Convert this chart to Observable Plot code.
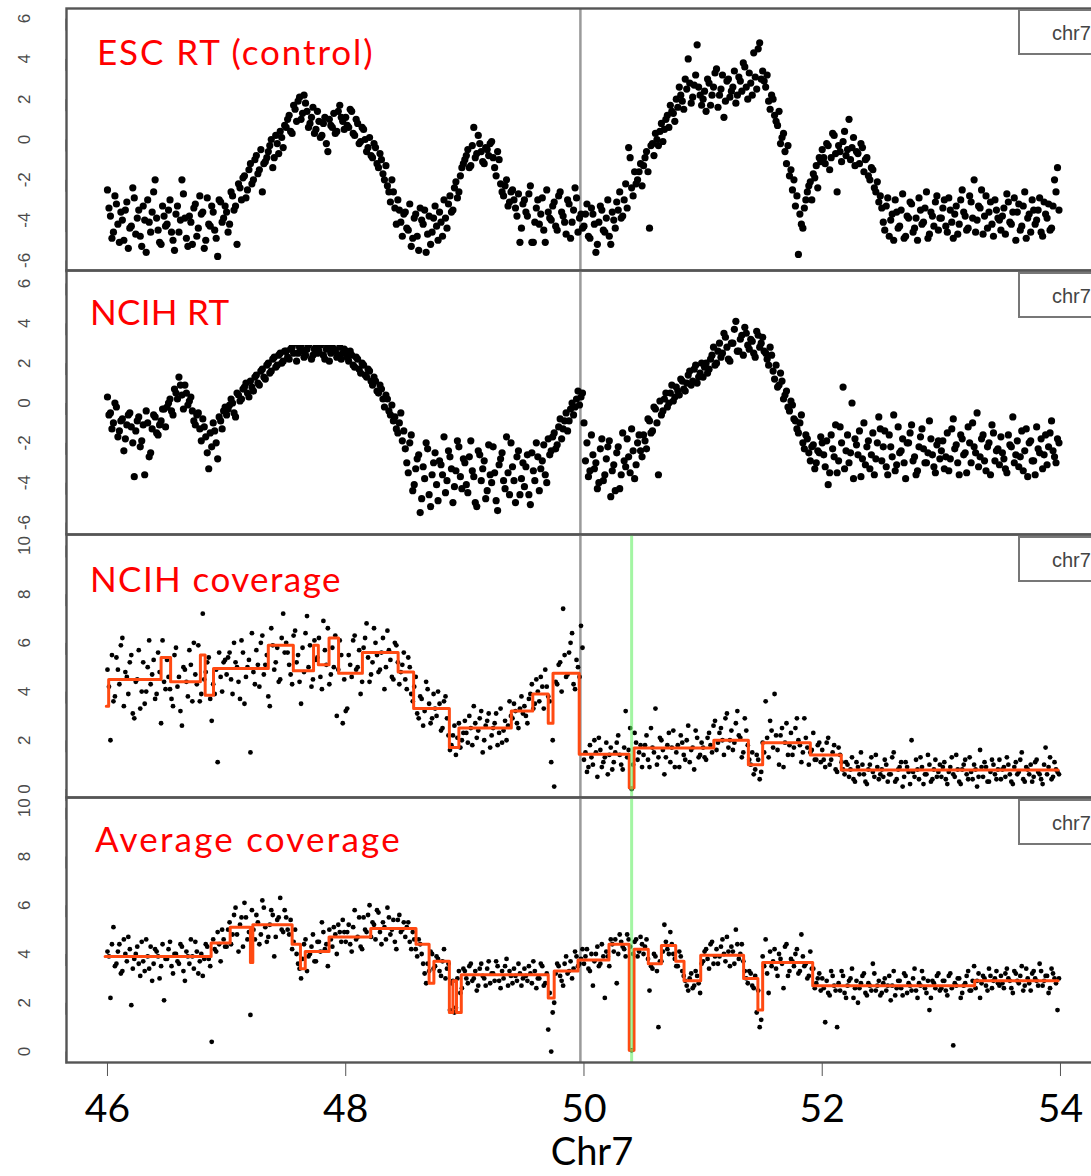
<!DOCTYPE html>
<html><head><meta charset="utf-8">
<script src="https://cdn.jsdelivr.net/npm/d3@7"></script>
<script src="https://cdn.jsdelivr.net/npm/@observablehq/plot@0.6"></script>
<style>
body{margin:0;background:#fff;}
#wrap{position:relative;width:1091px;height:1176px;overflow:hidden;background:#fff;}
.panel{position:absolute;left:0;max-width:none !important;}
.wbox{position:absolute;background:#fff;}
.lbl{position:absolute;color:#ff0000;font-family:Lato,sans-serif;font-size:35px;line-height:35px;white-space:nowrap;}
.legend{position:absolute;left:1018px;width:100px;height:46px;border:2px solid #777;background:#fff;box-sizing:border-box;font-family:"Liberation Sans",Arial,sans-serif;font-size:20px;color:#444;}
.legend span{position:absolute;left:32px;top:11px;}
#xlabel{position:absolute;left:0;width:1184px;text-align:center;top:1132px;font-family:Lato,sans-serif;font-size:38px;line-height:36px;color:#000;}
</style></head>
<body><div id="wrap"></div>
<script>
// ---- data: genomic bins from 46.0 Mb, 0.025 Mb apart; a second set of bins sits half a bin later ----
const binStart = 46.0;
const binStep = 0.025;

const escRT = [
-2.5,-3.8,-4.6,-3.2,-5.1,-4.0,-3.5,-5.4,-4.3,-2.9,-3.9,-4.8,-3.3,-5.6,-4.1,-3.6,-2.0,-4.5,-5.2,-3.8,
-4.2,-3.0,-5.0,-3.7,-4.6,-2.0,-3.9,-5.3,-4.1,-3.4,-4.8,-2.8,-3.6,-5.0,-4.2,-3.3,-4.5,-5.8,-3.1,-3.9,
-3.6,-4.2,-2.8,-3.3,-2.2,-3.0,-1.8,-2.5,-1.2,-2.0,-0.8,-1.5,-2.6,-1.1,-0.6,0.0,-0.9,-0.2,0.4,-0.4,
0.6,1.2,0.3,1.5,1.9,1.0,2.2,1.4,0.8,1.6,0.5,0.9,0.2,1.1,-0.6,0.7,1.3,0.4,1.7,0.9,
1.1,0.6,1.4,0.2,0.8,-0.1,0.5,-0.6,0.1,-0.9,-0.4,-1.4,-1.0,-2.0,-2.3,-3.1,-2.6,-4.2,-3.5,-4.8,
-3.6,-4.5,-5.3,-3.9,-4.8,-3.4,-4.2,-5.6,-3.8,-4.6,-3.3,-5.0,-4.1,-3.0,-4.4,-2.8,-3.5,-2.1,-2.6,-1.4,
-1.0,-0.5,-1.3,0.6,-0.7,-0.2,-1.1,-0.4,-0.8,-0.1,-1.4,-0.6,-2.2,-2.8,-2.0,-3.1,-2.5,-3.4,-2.7,-4.4,
-3.0,-3.8,-2.3,-5.1,-3.4,-4.2,-2.9,-5.1,-3.6,-4.0,-3.1,-4.5,-2.6,-3.8,-4.7,-3.2,-4.1,-2.4,-4.6,-3.7,
-4.3,-3.2,-4.9,-3.7,-5.6,-4.1,-3.5,-4.6,-3.0,-5.2,-4.0,-3.1,-2.6,-3.8,-2.2,-0.4,-2.4,-1.6,-2.0,-1.2,
-1.3,-0.6,-4.4,-0.2,0.3,-0.3,0.8,0.5,1.2,1.7,1.3,2.0,2.6,1.9,3.0,4.0,1.8,2.7,4.7,2.2,
2.0,1.4,2.8,2.2,3.3,1.6,2.5,1.1,2.9,2.1,2.6,1.8,3.1,2.4,3.6,2.0,2.8,4.3,2.5,4.8,
3.4,2.6,1.9,2.2,1.2,0.7,-0.2,0.3,-1.2,-1.8,-2.5,-3.3,-5.7,-4.2,-3.4,-2.6,-2.1,-1.7,-1.3,-0.9,
-0.5,-1.2,-0.3,-0.9,0.2,-2.6,-0.6,-0.1,-0.8,1.0,-0.4,-1.3,-0.7,-0.2,-1.6,-0.9,-2.0,-1.5,-2.6,-3.1,
-3.4,-4.5,-2.9,-4.0,-5.0,-3.6,-4.3,-2.7,-4.8,-3.9,-3.2,-4.4,-5.0,-3.5,-4.1,-2.6,-4.7,-3.8,-3.1,-4.5,
-3.9,-3.0,-4.6,-3.5,-4.9,-3.3,-4.2,-2.5,-3.8,-4.4,-3.1,-2.0,-4.0,-3.4,-4.7,-2.8,-3.6,-4.2,-3.0,-3.9,
-4.5,-3.4,-2.7,-4.1,-3.6,-5.0,-3.2,-4.3,-2.6,-3.9,-4.6,-3.5,-4.0,-2.9,-4.8,-3.7,-3.2,-4.4,-2.0,-1.4
];
const escRT2 = [
-3.4,-4.9,-2.8,-4.2,-3.6,-5.0,-3.1,-4.4,-2.4,-4.7,-3.5,-5.3,-4.0,-3.0,-4.6,-2.6,-3.9,-5.1,-3.3,-4.3,
-3.5,-4.6,-5.5,-3.3,-4.0,-2.7,-4.9,-3.8,-5.2,-3.2,-4.4,-3.7,-5.4,-2.9,-4.3,-3.6,-4.9,-3.0,-4.1,-3.3,
-4.6,-2.6,-3.5,-5.2,-2.4,-1.9,-2.9,-1.5,-2.2,-1.0,-1.7,-0.5,-1.2,-0.9,-0.3,-1.4,0.2,-0.7,0.1,0.7,
1.0,0.4,1.7,0.9,2.1,1.3,1.8,0.6,1.1,0.3,1.4,0.1,0.8,-0.2,1.0,0.6,0.3,1.4,1.1,0.5,
0.7,1.5,0.3,1.0,-0.2,0.6,0.0,-0.4,-0.8,-0.2,-1.2,-0.7,-1.7,-1.3,-2.6,-2.0,-3.4,-3.0,-4.1,-3.7,
-4.4,-3.2,-4.9,-3.7,-5.5,-4.0,-3.5,-4.7,-5.2,-3.9,-4.3,-3.6,-4.8,-3.9,-3.2,-3.6,-2.4,-2.9,-1.8,-1.2,
-0.8,-1.4,-0.3,-0.9,0.2,-0.6,-1.2,-0.5,-0.2,-0.9,-1.8,-1.0,-2.6,-2.3,-3.3,-2.6,-3.0,-3.8,-5.1,-3.2,
-3.6,-2.7,-5.1,-4.1,-3.0,-3.7,-4.5,-2.5,-3.9,-3.3,-4.3,-2.8,-3.6,-4.1,-3.0,-4.9,-3.5,-2.9,-3.9,-4.4,
-3.7,-4.8,-3.4,-4.2,-5.2,-3.3,-4.5,-3.9,-4.8,-3.6,-4.4,-3.5,-3.9,-3.0,-3.4,-0.9,-2.8,-2.2,-1.6,-2.3,
-0.9,-1.6,-0.3,-0.8,0.0,0.4,-0.1,1.0,0.6,1.4,0.9,1.6,2.2,1.5,2.5,2.8,2.1,3.2,2.6,1.7,
2.4,3.0,1.7,2.6,3.5,2.2,3.2,1.9,3.0,2.4,3.4,2.2,2.9,3.8,2.6,3.3,2.2,3.1,4.5,3.0,
2.9,3.2,1.5,2.0,0.9,1.4,0.1,-0.6,-0.3,-1.5,-2.0,-2.8,-3.7,-4.4,-3.0,-2.3,-3.0,-1.9,-2.4,-1.1,
-0.9,-0.2,-1.5,0.3,-0.7,-0.3,-1.1,0.4,-0.5,-1.0,0.1,-0.6,-1.2,-0.4,-1.0,-1.8,-1.4,-2.4,-2.1,-2.8,
-4.1,-3.3,-4.8,-3.7,-3.0,-4.4,-3.5,-4.9,-3.8,-3.1,-4.6,-3.9,-2.9,-4.2,-3.4,-4.9,-3.6,-4.3,-2.8,-3.9,
-3.4,-4.3,-2.9,-4.1,-3.7,-4.7,-3.0,-3.6,-4.5,-2.8,-3.9,-4.6,-3.3,-2.5,-3.8,-4.4,-3.1,-4.8,-3.5,-4.0,
-3.8,-4.7,-3.1,-4.2,-2.9,-3.6,-4.5,-3.3,-4.9,-3.7,-3.0,-4.2,-3.5,-4.6,-3.1,-3.9,-4.5,-3.3,-2.6,-3.5
];

const ncihRT = [
0.3,-0.5,-1.0,-0.2,-1.4,-0.8,-1.8,-0.6,-1.2,-3.7,-0.9,-2.2,-1.1,-0.4,-2.7,-1.3,-0.7,-1.6,-0.9,-0.3,
-0.2,0.2,-0.6,0.5,1.3,0.4,0.9,-0.1,0.3,-0.9,-0.6,-1.3,-0.8,-1.7,-3.3,-2.2,-1.4,-2.8,-0.9,-0.4,
-0.6,-0.1,0.0,-0.7,0.4,0.2,0.8,0.5,1.1,0.6,1.4,0.9,1.7,1.2,2.0,1.6,2.3,1.9,2.5,2.1,
2.6,2.2,2.8,3.0,2.5,2.9,2.3,2.7,3.1,2.4,2.8,2.6,3.0,2.2,2.9,2.5,2.7,2.3,2.8,2.5,
2.6,2.1,2.4,1.8,2.2,1.5,1.9,1.3,1.6,0.9,1.1,0.5,0.7,-0.2,0.2,-0.6,-0.9,-1.3,-1.0,-1.9,
-2.3,-3.5,-1.6,-4.1,-2.8,-5.5,-3.2,-2.0,-4.6,-3.6,-2.5,-4.9,-3.1,-1.7,-3.9,-2.7,-5.0,-3.4,-2.2,-4.3,
-3.0,-4.5,-1.9,-3.7,-5.2,-2.6,-3.3,-4.8,-2.1,-4.0,-3.5,-5.4,-2.8,-3.9,-1.7,-4.6,-3.2,-5.0,-2.4,-3.8,
-4.2,-2.6,-5.1,-3.4,-2.0,-4.4,-2.9,-3.6,-1.8,-2.4,-1.5,-2.1,-0.8,-1.3,-0.5,-0.9,0.0,-0.2,0.6,0.3,
-1.0,-2.0,-3.4,-2.6,-3.0,-4.0,-1.8,-3.6,-2.2,-4.7,-3.1,-2.5,-4.3,-1.5,-3.2,-2.7,-1.3,-3.8,-2.0,-2.4,
-1.6,-2.3,-0.9,-1.4,-0.3,-3.6,-0.6,0.2,-0.2,0.5,0.1,0.8,0.4,1.1,0.6,1.4,0.9,1.7,1.0,1.5,
1.3,2.0,1.7,2.4,1.9,2.6,2.3,3.5,2.8,2.1,3.0,4.1,2.6,3.4,3.8,2.9,3.2,2.5,3.6,2.8,
3.3,2.5,1.9,2.4,1.2,0.8,1.5,0.2,0.6,-0.4,-0.1,-0.9,-1.5,-0.6,-2.3,-1.8,-2.9,-2.1,-3.0,-2.5,
-2.0,-3.2,-4.1,-1.6,-2.7,-3.5,-1.2,0.8,-2.4,-3.0,0.0,-1.8,-2.6,-3.7,-1.0,-2.2,-3.3,-1.5,-2.8,-0.7,
-2.9,-1.4,-3.6,-2.2,-0.6,-3.1,-2.5,-1.8,-3.8,-2.0,-1.1,-2.7,-3.4,-1.7,-2.3,-3.0,-0.9,-2.6,-3.5,-1.9,
-2.4,-3.3,-1.5,-2.8,-0.8,-2.1,-3.6,-1.8,-2.5,-1.2,-3.0,-2.2,-0.5,-2.7,-1.6,-3.4,-2.0,-1.1,-2.9,-2.3,
-1.7,-2.8,-3.5,-2.1,-0.7,-2.6,-3.2,-1.4,-2.4,-3.7,-1.9,-2.9,-1.2,-2.5,-3.3,-1.6,-2.2,-0.9,-2.7,-1.8
];
const ncihRT2 = [
-0.6,-1.3,0.0,-1.7,-0.9,-2.4,-1.1,-0.5,-2.0,-1.4,-0.7,-1.9,-3.6,-1.0,-2.5,-0.6,-1.5,-1.1,-0.3,-1.2,
0.0,-0.4,0.7,0.2,0.9,-0.3,0.5,0.1,-0.4,-1.1,-0.5,-1.9,-1.2,-2.5,-1.5,-1.0,-2.0,-0.7,-1.3,-0.2,
-0.3,0.2,-0.5,0.5,0.1,0.7,1.0,0.3,0.8,1.3,1.0,1.6,1.3,1.9,1.5,2.2,1.8,2.4,2.0,2.6,
2.3,2.7,2.5,2.1,2.8,2.6,2.4,2.9,2.2,2.7,2.5,2.9,2.4,2.7,2.1,2.8,2.6,2.4,2.2,2.7,
2.3,2.6,1.9,2.3,1.7,2.0,1.4,1.7,1.1,1.3,0.6,0.9,0.2,0.4,-0.4,-0.1,-0.7,-1.5,-0.5,-1.4,
-3.0,-2.0,-4.4,-3.3,-2.6,-4.8,-3.8,-2.3,-5.2,-3.0,-4.1,-2.9,-3.6,-4.5,-2.4,-3.3,-4.2,-1.9,-3.7,-2.8,
-4.1,-2.7,-3.4,-5.0,-2.4,-3.9,-2.9,-4.4,-3.6,-2.2,-4.9,-3.1,-2.5,-4.3,-3.5,-2.0,-3.9,-2.7,-4.6,-3.0,
-3.2,-4.6,-2.5,-3.9,-2.7,-3.3,-2.1,-4.0,-2.6,-1.7,-2.3,-1.2,-1.8,-0.9,-1.4,-0.3,-0.6,0.2,-0.1,0.5,
-2.9,-3.7,-1.6,-3.3,-4.3,-2.3,-3.9,-2.8,-1.9,-3.4,-4.4,-2.2,-3.6,-2.9,-1.8,-3.5,-2.4,-3.1,-1.6,-2.7,
-1.9,-0.8,-1.5,-0.2,-1.0,0.1,-0.4,0.5,0.0,0.9,0.3,0.6,1.2,0.7,1.0,1.6,1.1,1.9,1.3,2.0,
1.8,1.5,2.2,2.8,2.0,3.0,2.5,3.3,2.2,3.0,3.7,2.6,3.2,2.4,3.5,2.7,3.1,2.3,3.4,3.0,
2.6,2.2,2.8,1.6,1.9,0.9,1.1,0.4,-0.2,0.1,-0.8,-1.3,-1.0,-2.0,-1.6,-2.5,-2.2,-3.3,-2.4,-1.7,
-2.6,-1.9,-3.5,-2.3,-1.1,-2.9,-2.0,-3.3,-1.6,-2.5,-3.8,-2.1,-1.4,-2.8,-3.1,-1.9,-2.6,-3.6,-2.0,-1.3,
-2.2,-3.2,-1.6,-2.7,-3.4,-1.2,-2.4,-3.0,-2.0,-1.5,-2.9,-3.6,-2.2,-1.3,-3.0,-2.5,-1.8,-3.2,-2.1,-2.8,
-1.9,-2.7,-3.4,-1.3,-2.3,-3.0,-1.6,-2.6,-3.5,-2.0,-1.0,-2.5,-3.2,-1.8,-2.9,-2.2,-3.6,-1.5,-2.4,-3.1,
-2.5,-3.3,-1.6,-2.2,-3.0,-1.9,-2.7,-3.4,-1.3,-2.0,-2.9,-3.6,-2.3,-1.8,-2.6,-3.1,-1.5,-2.4,-3.0,-2.0
];

const ncihCov = [
4.9,2.0,3.6,5.4,4.3,6.2,4.8,3.9,5.5,2.9,4.5,3.3,5.2,4.0,6.1,4.7,3.7,5.6,2.7,4.4,
5.3,4.1,3.4,5.8,4.6,2.6,4.9,3.8,5.1,6.0,4.3,3.6,7.2,4.8,5.4,2.8,3.9,1.1,4.6,5.2,
4.7,5.6,3.9,5.2,4.4,6.1,3.5,5.0,1.5,4.8,5.7,4.2,6.3,5.1,3.8,6.6,4.9,5.8,4.5,7.2,
6.0,5.1,4.3,6.5,5.5,3.5,4.8,7.1,5.9,4.5,5.3,6.2,4.1,5.7,6.6,4.7,5.0,3.0,6.1,2.7,
3.2,5.5,4.6,6.3,5.0,3.9,5.8,6.8,4.4,5.2,6.0,4.8,5.6,4.1,6.5,5.3,4.5,5.9,4.3,5.1,
4.5,5.4,3.9,4.2,3.1,3.8,2.6,4.4,3.5,2.9,3.3,4.0,2.4,3.6,2.9,1.6,2.2,1.4,2.7,2.0,
2.8,1.9,2.5,3.4,2.1,2.9,1.5,2.6,3.1,2.2,2.7,1.8,3.3,2.4,2.0,3.6,2.9,3.2,2.5,3.8,
3.4,2.7,3.9,3.3,4.5,3.6,4.2,4.9,3.8,1.1,0.1,4.3,5.2,7.4,4.6,5.6,6.4,4.1,5.0,6.7,
1.2,0.7,1.8,1.0,1.5,2.1,0.9,1.3,0.6,1.7,1.1,1.9,1.4,0.8,3.2,1.6,0.0,2.3,1.2,1.8,
1.4,2.2,0.9,1.7,3.3,1.3,2.0,0.6,1.8,1.1,2.4,1.5,0.9,1.9,1.2,2.6,1.6,0.8,2.1,1.4,
1.7,1.2,2.3,1.5,2.8,1.9,2.5,1.4,3.1,2.0,1.6,2.7,2.2,1.3,2.9,1.8,1.0,0.6,1.4,0.4,
1.9,3.6,1.3,2.4,3.9,1.6,2.2,0.9,2.7,1.8,1.4,2.5,2.0,1.1,2.9,1.7,1.5,2.3,1.2,1.9,
1.6,0.9,2.1,1.2,1.8,0.7,1.4,0.8,1.1,0.5,1.3,0.3,0.9,1.5,0.6,0.2,1.0,0.7,1.4,0.4,
0.8,1.2,0.3,0.6,1.5,0.4,0.9,0.1,1.1,0.7,2.0,0.5,0.8,1.3,0.2,0.6,1.0,0.4,1.2,0.7,
0.5,1.1,0.2,0.9,0.6,1.4,0.3,0.8,1.2,0.4,0.7,1.0,0.1,1.6,0.5,0.9,0.3,1.2,0.6,0.8,
0.4,0.9,1.3,0.6,0.2,1.1,0.7,1.5,0.3,0.8,1.0,0.5,1.2,0.6,0.2,1.7,0.9,0.4,1.1,0.7
];
const ncihCov2 = [
4.2,5.5,3.8,4.9,5.9,3.4,4.6,5.2,3.1,4.4,5.7,4.0,3.5,5.0,4.3,5.3,3.9,4.8,6.1,4.1,
4.6,3.7,5.5,4.2,3.2,5.0,4.4,5.7,3.6,4.7,5.9,3.9,4.5,5.2,3.7,4.3,4.9,5.6,4.0,5.3,
5.4,4.5,6.0,5.0,3.7,5.6,4.6,5.3,6.4,4.3,5.1,6.0,4.7,5.5,3.4,5.9,5.2,4.4,6.2,5.6,
5.6,4.7,6.3,5.2,4.4,5.8,6.4,5.0,4.2,6.1,5.4,4.6,6.9,5.1,4.3,5.8,6.3,4.9,5.5,4.5,
3.3,5.1,6.1,4.9,5.7,4.4,6.2,5.4,4.7,6.6,5.5,4.9,6.2,5.0,5.7,4.6,6.0,5.2,4.8,5.6,
4.1,5.0,3.6,4.6,2.9,3.7,3.2,4.1,2.7,3.9,3.0,3.5,2.5,3.8,2.2,1.8,2.6,2.1,1.7,2.3,
2.3,3.0,1.8,2.7,2.4,3.2,2.0,2.8,1.7,2.5,3.1,2.3,1.9,2.8,2.6,3.0,3.5,2.7,3.3,3.1,
3.0,3.7,4.3,3.5,4.0,4.6,3.3,4.2,3.6,2.0,4.4,5.1,4.0,5.5,4.7,6.0,4.3,5.3,4.6,5.8,
1.5,0.9,1.3,2.0,0.5,1.6,1.1,1.9,1.4,0.8,1.5,2.2,1.0,1.7,1.3,2.5,1.0,1.9,1.5,0.9,
1.8,1.2,2.5,1.5,1.0,2.1,1.6,1.3,2.3,1.7,0.9,1.8,2.2,1.4,2.0,1.1,1.7,2.4,1.3,1.9,
1.3,2.1,1.8,2.6,1.6,2.3,2.0,2.9,1.7,2.4,1.9,3.2,2.1,1.5,2.4,1.2,1.5,0.8,1.2,0.7,
1.5,2.1,2.8,1.7,2.2,1.0,2.5,1.9,1.4,2.3,1.7,2.9,1.8,1.5,2.1,1.0,1.6,1.2,1.8,1.1,
1.2,1.9,1.0,1.5,0.8,1.7,1.1,0.6,1.0,0.8,0.4,1.1,0.6,1.0,0.3,0.8,1.3,0.5,0.9,0.6,
0.5,1.0,0.6,1.3,0.3,0.8,1.1,0.5,0.9,0.2,0.7,1.2,0.4,0.9,0.6,1.4,0.3,0.8,0.5,1.0,
0.9,0.4,0.7,1.3,0.5,0.8,0.2,1.0,0.6,1.3,0.4,0.8,0.5,0.9,1.1,0.3,0.7,1.0,0.4,1.2,
0.8,0.5,1.0,0.3,0.9,0.6,1.2,0.4,0.9,0.6,0.3,1.1,0.7,0.4,1.0,0.6,1.3,0.5,0.8,0.6
];

const avgCov = [
4.1,2.2,5.1,3.6,4.4,3.3,4.0,4.7,1.9,3.8,4.3,3.1,3.7,4.6,3.4,2.9,4.2,3.9,3.5,2.1,
3.8,4.5,3.2,4.0,3.6,4.3,2.9,3.9,4.6,3.4,4.1,3.7,3.1,4.4,3.8,0.4,4.2,4.9,3.7,4.6,
4.3,5.3,4.8,5.9,4.1,5.5,6.1,4.6,1.5,5.0,5.6,4.4,6.2,5.1,4.7,5.8,3.9,5.4,6.3,4.9,
5.5,4.8,4.2,5.0,3.6,3.0,4.4,3.3,4.0,4.8,3.7,4.5,5.3,4.2,3.5,4.6,5.1,4.0,4.9,5.4,
4.5,5.2,4.1,5.8,4.7,4.3,5.5,4.9,6.0,5.3,4.6,5.7,4.4,5.1,5.9,4.8,5.4,4.2,5.6,5.0,
4.7,5.3,4.2,4.6,3.9,4.4,3.6,2.8,3.3,4.0,3.5,3.8,3.1,4.2,3.4,1.7,2.9,1.8,3.3,2.6,
3.3,2.8,3.6,3.0,2.5,3.4,3.1,2.7,3.7,3.2,2.9,3.5,2.6,3.0,3.8,3.3,2.8,3.1,3.6,2.7,
3.4,2.9,3.2,3.7,2.6,3.0,3.5,2.8,0.9,0.0,2.0,3.6,3.1,2.7,3.9,3.3,3.0,4.1,3.5,3.8,
3.6,4.2,3.3,2.7,4.0,3.5,4.4,2.2,3.9,4.6,4.1,2.8,4.8,4.3,3.9,4.6,0.05,4.5,3.9,4.7,
4.0,4.6,2.5,3.4,3.9,1.0,3.7,5.2,4.2,4.9,4.0,3.5,4.1,3.3,2.9,2.5,3.2,2.7,3.1,2.4,
3.7,4.2,3.4,4.5,3.9,3.6,4.3,4.0,4.7,3.5,4.1,5.0,3.8,4.4,3.3,2.8,3.2,2.6,1.6,1.0,
3.9,4.6,2.4,3.5,4.2,3.1,3.8,2.6,4.4,3.3,3.7,4.0,3.2,4.8,3.5,3.0,4.1,3.4,2.8,3.2,
3.0,1.2,2.4,3.3,2.7,1.0,2.5,3.1,2.2,2.9,3.4,2.6,2.0,2.8,3.2,2.3,2.7,3.6,2.5,2.9,
2.4,3.0,2.7,2.1,3.3,2.6,2.9,2.3,3.1,2.8,2.5,3.4,2.2,2.7,3.0,2.4,1.7,2.9,2.6,3.2,
2.6,2.9,2.3,3.2,0.25,2.7,3.0,2.4,2.8,3.3,2.5,3.5,2.9,2.2,3.1,2.7,3.4,2.6,3.0,2.8,
3.1,2.6,3.4,2.9,2.4,3.2,2.8,3.5,2.7,3.0,2.5,3.3,2.9,3.6,2.7,3.1,2.4,3.4,3.0,1.7
];
const avgCov2 = [
3.9,4.4,3.5,4.1,3.2,4.6,3.7,4.2,3.4,4.0,3.6,4.5,3.3,3.9,4.3,3.6,4.1,3.0,4.4,3.8,
4.2,3.5,4.0,3.7,4.4,3.3,4.1,3.6,3.9,4.5,3.2,4.0,3.8,4.3,3.5,4.6,4.1,4.4,5.0,4.3,
5.0,4.4,5.6,4.8,5.2,4.3,5.5,4.9,5.8,4.6,5.3,4.8,5.9,4.5,5.2,5.6,4.7,5.5,5.0,5.8,
5.0,5.4,4.5,4.0,3.4,3.8,4.6,3.9,4.3,3.7,4.5,4.1,4.9,4.4,5.0,4.3,4.8,5.2,4.5,4.9,
4.9,4.4,5.1,4.6,5.5,4.2,5.0,5.6,4.7,5.2,5.8,4.9,5.3,4.6,5.5,5.0,4.5,5.4,4.9,5.3,
5.1,4.5,4.9,4.2,4.6,4.0,3.2,3.6,4.1,3.4,3.9,3.3,3.7,3.0,3.6,2.8,1.6,3.0,2.4,3.4,
3.0,3.5,2.9,3.3,2.7,3.6,3.0,3.4,2.8,3.2,3.7,2.9,3.3,3.5,2.7,3.1,3.4,2.9,3.2,3.0,
3.1,3.5,2.8,3.3,3.0,3.6,2.7,3.2,2.4,1.6,3.2,3.5,2.9,3.6,3.2,3.7,3.4,3.9,3.6,4.2,
3.9,3.4,4.0,3.7,4.3,3.6,3.9,4.1,3.5,4.4,4.6,4.0,4.5,4.2,4.8,4.3,4.0,4.6,4.1,4.4,
4.3,3.8,3.5,4.0,3.3,3.7,4.1,4.5,4.0,4.4,3.8,3.5,3.9,3.1,2.7,3.0,2.6,3.3,2.8,3.6,
4.1,3.8,4.4,3.6,4.2,3.9,4.6,3.7,4.1,4.3,3.6,4.4,4.0,3.7,3.0,3.3,2.7,3.1,2.5,1.3,
3.5,3.2,4.1,3.7,3.4,4.0,3.6,4.3,3.1,3.8,3.5,4.2,3.3,3.9,3.6,3.1,3.4,2.6,3.0,2.5,
2.6,2.9,2.3,3.1,2.5,2.8,3.3,2.4,2.7,3.0,2.2,2.9,2.6,3.1,2.4,2.8,2.5,3.2,2.7,2.3,
2.8,2.5,3.1,2.7,2.3,2.9,2.6,3.2,2.4,2.7,3.0,2.5,2.8,3.3,2.6,2.9,2.2,2.8,3.1,2.5,
2.9,2.5,3.1,2.6,2.8,3.0,2.2,2.7,3.1,2.5,2.9,2.6,3.2,2.8,3.0,2.5,3.1,2.9,3.3,2.7,
2.8,3.2,3.0,2.6,3.3,2.9,3.1,2.5,3.4,2.8,3.2,3.0,2.7,3.3,2.9,3.1,2.6,3.2,2.8,3.0
];

// segmentation (copy-number steps): breakpoints and levels
const ncihSegBreaks = [45.99,46.01,46.45,46.53,46.78,46.82,46.89,47.35,47.56,47.73,47.77,47.86,47.94,48.14,48.44,48.57,48.87,48.95,49.39,49.57,49.70,49.74,49.96,50.38,50.42,51.09,51.38,51.50,51.90,52.16,53.98];
const ncihSegLevels = [3.4,4.5,5.4,4.4,5.5,3.85,4.95,5.9,4.85,5.9,5.1,6.2,4.75,5.6,4.8,3.3,1.7,2.5,3.2,3.9,2.7,4.75,1.43,0.05,1.68,2.0,1.0,1.9,1.4,0.78];
const avgSegBreaks = [45.98,46.87,47.03,47.2,47.22,47.55,47.62,47.66,47.86,48.21,48.59,48.7,48.74,48.87,48.9,48.93,48.97,49.7,49.75,49.95,50.21,50.38,50.42,50.54,50.65,50.77,50.84,50.98,51.34,51.46,51.5,51.92,53.28,53.98];
const avgSegLevels = [3.9,4.45,5.1,3.65,5.2,4.4,3.4,4.1,4.7,5.05,4.4,2.8,3.7,1.6,2.9,1.6,3.15,2.2,3.3,3.75,4.4,0.05,4.2,3.6,4.35,3.7,2.9,3.95,3.0,1.7,3.65,2.7,2.9];

const panelTitles = ["ESC RT (control)", "NCIH RT", "NCIH coverage", "Average coverage"];
const rtTicks = [-6,-4,-2,0,2,4,6];
const covTicks = [0,2,4,6,8,10];
const xTicks = [46,48,50,52,54];
const xTitle = "Chr7";
const legendText = "chr7";
const boundaryX = 49.97;   // grey vertical marker
const highlightX = 50.40;  // green vertical marker

// ---- helpers ----
const toPoints = (a, b) => a.map((y, i) => ({x: binStart + i * binStep, y}))
  .concat(b.map((y, i) => ({x: binStart + binStep / 2 + i * binStep, y})));
const toSteps = (breaks, levels) => levels.map((y, i) => ({x: breaks[i], y}))
  .concat([{x: breaks[breaks.length - 1], y: levels[levels.length - 1]}]);

const xDomain = [45.656, 54.336];
const panels = [
  {top: 8,   h: 262, dom: [-6.5, 6.5],   ticks: rtTicks,  data: [escRT, escRT2],     r: 3.6, seg: null, green: false, title: panelTitles[0], tx: 97, ty: 34, ls: 1.9, box: [85, 20, 300, 65]},
  {top: 270, h: 264, dom: [-6.6, 6.65],  ticks: rtTicks,  data: [ncihRT, ncihRT2],   r: 3.6, seg: null, green: false, title: panelTitles[1], tx: 90, ty: 294, ls: 0.3, box: [85, 285, 355, 60]},
  {top: 534, h: 263, dom: [-0.35, 10.45], ticks: covTicks, data: [ncihCov, ncihCov2], r: 2.4, seg: [ncihSegBreaks, ncihSegLevels], green: true, title: panelTitles[2], tx: 90, ty: 561, ls: 1.4, box: [85, 550, 355, 60]},
  {top: 797, h: 265, dom: [-0.45, 10.42], ticks: covTicks, data: [avgCov, avgCov2],  r: 2.4, seg: [avgSegBreaks, avgSegLevels], green: true, title: panelTitles[3], tx: 95, ty: 821, ls: 2.2, box: [85, 812, 330, 55]}
];

const wrap = document.getElementById("wrap");
panels.forEach((p, k) => {
  const last = k === panels.length - 1;
  const mb = last ? 114 : 0;
  const marks = [
    Plot.ruleX([boundaryX], {stroke: "#9a9a9a", strokeWidth: 2.5}),
    Plot.dot(toPoints(p.data[0], p.data[1]), {x: "x", y: "y", r: p.r, fill: "#000", stroke: "none"})
  ];
  if (p.seg) marks.push(Plot.line(toSteps(p.seg[0], p.seg[1]), {x: "x", y: "y", curve: "step-after", stroke: "#ff4a12", strokeWidth: 3}));
  if (p.green) marks.push(Plot.ruleX([highlightX], {stroke: "#66ee66", strokeWidth: 3, strokeOpacity: 0.6}));
  marks.push(Plot.axisY({ticks: p.ticks, tickFormat: d => String(d), tickSize: 12, tickPadding: 30, rotate: -90, textAnchor: "middle", fontSize: 17, fontFamily: "Liberation Sans, Arial, sans-serif", color: "#4a4a4a", label: null}));
  if (last) marks.push(Plot.axisX({ticks: xTicks, tickFormat: d => String(d), tickSize: 14, tickPadding: 18, fontSize: 39, fontFamily: "Lato, sans-serif", stroke: "#555", fill: "#000", label: null}));
  marks.push(Plot.frame({stroke: "#555", strokeWidth: 2.4}));
  const chart = Plot.plot({
    width: 1100, height: p.h + mb,
    marginLeft: 66, marginRight: 0, marginTop: 0, marginBottom: mb,
    style: {overflow: "visible", background: "transparent", maxWidth: "none"},
    x: {domain: xDomain, axis: null},
    y: {domain: p.dom, axis: null},
    marks
  });
  chart.classList.add("panel");
  chart.style.top = p.top + "px";
  chart.style.maxWidth = "none";
  wrap.appendChild(chart);

  const wb = document.createElement("div");
  wb.className = "wbox";
  Object.assign(wb.style, {left: p.box[0] + "px", top: p.box[1] + "px", width: p.box[2] + "px", height: p.box[3] + "px"});
  wrap.appendChild(wb);
  const t = document.createElement("div");
  t.className = "lbl"; t.textContent = p.title;
  t.style.left = p.tx + "px"; t.style.top = p.ty + "px"; t.style.letterSpacing = p.ls + "px";
  wrap.appendChild(t);

  const lg = document.createElement("div");
  lg.className = "legend"; lg.style.top = (p.top + (k === 0 ? 1 : 2)) + "px";
  lg.innerHTML = "<span>" + legendText + "</span>";
  wrap.appendChild(lg);
});
const xl = document.createElement("div");
xl.id = "xlabel"; xl.textContent = xTitle;
wrap.appendChild(xl);
</script>
</body></html>
